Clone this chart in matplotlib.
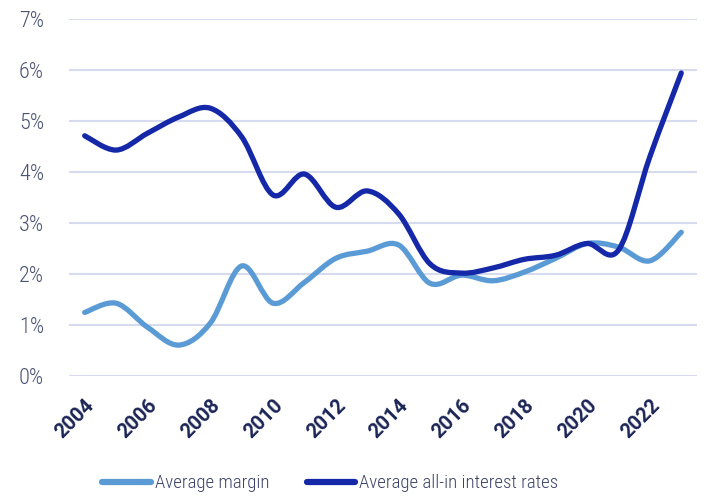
import numpy as np
import matplotlib
matplotlib.use("Agg")
import matplotlib.pyplot as plt
from matplotlib.path import Path
from matplotlib.patches import PathPatch
from matplotlib.lines import Line2D
from matplotlib.ticker import FuncFormatter

years = list(range(2004, 2024))
margin = [1.25, 1.43, 0.96, 0.61, 1.04, 2.16, 1.43, 1.84, 2.31, 2.45,
          2.57, 1.82, 1.98, 1.87, 2.04, 2.31, 2.60, 2.53, 2.26, 2.82]
all_in = [4.71, 4.43, 4.76, 5.08, 5.25, 4.69, 3.55, 3.96, 3.31, 3.63,
          3.18, 2.20, 2.02, 2.12, 2.29, 2.37, 2.60, 2.47, 4.30, 5.94]
xticks = list(range(2004, 2023, 2))

light = "#5b9bd5"
dark = "#1428a8"
grid_col = "#d7dbf0"
narrow = ["Roboto Condensed", "Liberation Sans Narrow", "Roboto", "DejaVu Sans"]


def smooth_path(xs, ys, t=1/6):
    # Excel-like smoothed line: cubic Bezier segments through the points
    xs = np.asarray(xs, float)
    ys = np.asarray(ys, float)
    n = len(xs)
    verts = [(xs[0], ys[0])]
    codes = [Path.MOVETO]
    for i in range(n - 1):
        p0 = (xs[max(i - 1, 0)], ys[max(i - 1, 0)])
        p1 = (xs[i], ys[i])
        p2 = (xs[i + 1], ys[i + 1])
        p3 = (xs[min(i + 2, n - 1)], ys[min(i + 2, n - 1)])
        c1 = (p1[0] + (p2[0] - p0[0]) * t, p1[1] + (p2[1] - p0[1]) * t)
        c2 = (p2[0] - (p3[0] - p1[0]) * t, p2[1] - (p3[1] - p1[1]) * t)
        verts += [c1, c2, p2]
        codes += [Path.CURVE4] * 3
    return Path(verts, codes)


fig = plt.figure(figsize=(7.04, 4.97), dpi=100)
ax = fig.add_axes([0.098, 0.243, 0.892, 0.719])

for ys, col in [(margin, light), (all_in, dark)]:
    ax.add_patch(PathPatch(smooth_path(years, ys), facecolor="none",
                           edgecolor=col, lw=3.8, capstyle="round",
                           joinstyle="round", zorder=3))

ax.set_xlim(2003.5, 2023.5)
ax.set_ylim(0, 7)
ax.set_yticks(range(0, 8))
ax.yaxis.set_major_formatter(FuncFormatter(lambda v, p: f"{int(v)}%"))
ax.set_xticks(xticks)
ax.set_xticklabels([str(y) for y in xticks], rotation=45, ha="right",
                   rotation_mode="anchor", fontsize=14.5, fontweight="bold",
                   color="#1b2555", family=["Roboto", "DejaVu Sans"])
for lab in ax.get_yticklabels():
    lab.set_fontsize(16)
    lab.set_color("#4a5275")
    lab.set_fontweight(300)
    lab.set_family(narrow)
ax.tick_params(axis="both", length=0)
ax.tick_params(axis="y", pad=18)
ax.tick_params(axis="x", pad=14)
ax.grid(axis="y", color=grid_col, lw=1.5)
ax.set_axisbelow(True)
for s in ax.spines.values():
    s.set_visible(False)

handles = [Line2D([], [], color=light, lw=4.5, solid_capstyle="round"),
           Line2D([], [], color=dark, lw=4.5, solid_capstyle="round")]
fig.legend(handles, ["Average margin", "Average all-in interest rates"],
           loc="center", bbox_to_anchor=(0.469, 0.028), ncol=2, frameon=False,
           handlelength=2.6, handletextpad=0.2, columnspacing=2.0,
           prop={"family": narrow, "size": 13.5, "weight": 300},
           labelcolor="#3a4268")

fig.savefig("out.png", dpi=100)
